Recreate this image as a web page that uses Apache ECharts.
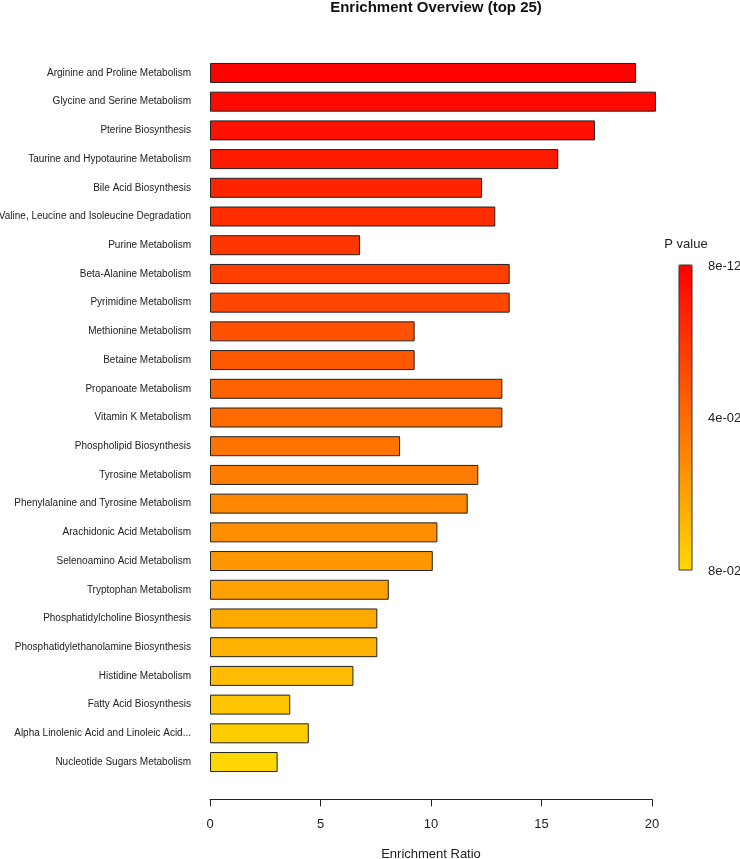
<!DOCTYPE html>
<html>
<head>
<meta charset="utf-8">
<script src="https://cdn.jsdelivr.net/npm/echarts@6/dist/echarts.min.js"></script>
<style>
  html, body { margin: 0; padding: 0; background: #fff; }
  #chart { width: 740px; height: 859px; }
</style>
</head>
<body>
<div id="chart"></div>
<script>
// pathway names, top to bottom
const pathways = [
  'Arginine and Proline Metabolism',
  'Glycine and Serine Metabolism',
  'Pterine Biosynthesis',
  'Taurine and Hypotaurine Metabolism',
  'Bile Acid Biosynthesis',
  'Valine, Leucine and Isoleucine Degradation',
  'Purine Metabolism',
  'Beta-Alanine Metabolism',
  'Pyrimidine Metabolism',
  'Methionine Metabolism',
  'Betaine Metabolism',
  'Propanoate Metabolism',
  'Vitamin K Metabolism',
  'Phospholipid Biosynthesis',
  'Tyrosine Metabolism',
  'Phenylalanine and Tyrosine Metabolism',
  'Arachidonic Acid Metabolism',
  'Selenoamino Acid Metabolism',
  'Tryptophan Metabolism',
  'Phosphatidylcholine Biosynthesis',
  'Phosphatidylethanolamine Biosynthesis',
  'Histidine Metabolism',
  'Fatty Acid Biosynthesis',
  'Alpha Linolenic Acid and Linoleic Acid...',
  'Nucleotide Sugars Metabolism'
]

const enrichmentRatio = [
  19.28, 20.18, 17.42, 15.76, 12.31, 12.91, 6.79, 13.56, 13.56, 9.26,
  9.26, 13.23, 13.23, 8.60, 12.14, 11.66, 10.29, 10.08, 8.09, 7.57,
  7.57, 6.49, 3.63, 4.47, 3.06
]

const pValues = [
  8e-12, 0.0030, 0.0065, 0.0098, 0.0130, 0.0165, 0.0200, 0.0232, 0.0265, 0.0300,
  0.0333, 0.0365, 0.0400, 0.0432, 0.0465, 0.0500, 0.0533, 0.0565, 0.0600, 0.0632,
  0.0665, 0.0700, 0.0732, 0.0765, 0.0800
]

const xTicks = [0, 5, 10, 15, 20]
const legendLabels = ['8e-12', '4e-02', '8e-02']

const font = "'Liberation Sans', Arial, sans-serif"
const chart = echarts.init(document.getElementById('chart'))

const barData = pathways.map((name, i) => [enrichmentRatio[i], name, pValues[i]])

const option = {
  animation: false,
  textStyle: { fontFamily: font },
  title: {
    text: 'Enrichment Overview (top 25)',
    left: 431,
    top: -5,
    textAlign: 'center',
    textStyle: { fontSize: 15, fontWeight: 'bold', color: '#111', fontFamily: font }
  },
  grid: {
    left: 210,
    right: 88,
    top: 58.6,
    bottom: 82.6,
    containLabel: false,
    outerBoundsMode: 'none'
  },
  xAxis: {
    type: 'value',
    min: xTicks[0],
    max: xTicks[xTicks.length - 1],
    interval: 5,
    offset: 23,
    name: 'Enrichment Ratio',
    nameLocation: 'middle',
    nameGap: 49,
    nameTextStyle: { fontSize: 13, color: '#222' },
    axisLine: { show: true, lineStyle: { color: '#222', width: 1 } },
    axisTick: { show: true, length: 7, lineStyle: { color: '#222' } },
    axisLabel: { fontSize: 13, color: '#222', margin: 19 },
    splitLine: { show: false }
  },
  yAxis: {
    type: 'category',
    inverse: true,
    data: pathways,
    axisLine: { show: false },
    axisTick: { show: false },
    axisLabel: { fontSize: 10, color: '#222', margin: 19 }
  },
  visualMap: {
    type: 'continuous',
    seriesIndex: 0,
    dimension: 2,
    min: 8e-12,
    max: 0.08,
    inverse: true,
    calculable: false,
    left: 679,
    top: 265,
    padding: 0,
    itemWidth: 13,
    itemHeight: 305,
    showLabel: false,
    inRange: { color: ['#FF0000', '#FFD700'] }
  },
  graphic: [
    {
      type: 'rect',
      shape: { x: 679, y: 265, width: 13, height: 305 },
      style: { fill: 'none', stroke: '#333', lineWidth: 1 },
      z: 100
    },
    {
      type: 'text', x: 686, y: 244,
      style: { text: 'P value', font: '13px ' + font, fill: '#222', textAlign: 'center', textVerticalAlign: 'middle' }
    },
    ...legendLabels.map((t, i) => ({
      type: 'text', x: 708, y: 266 + i * 152.5,
      style: { text: t, font: '13px ' + font, fill: '#222', textAlign: 'left', textVerticalAlign: 'middle' }
    }))
  ],
  series: [
    {
      type: 'bar',
      data: barData,
      encode: { x: 0, y: 1 },
      barWidth: 20,
      clip: false,
      itemStyle: { borderColor: '#222', borderWidth: 1 }
    }
  ]
}

chart.setOption(option)
</script>
</body>
</html>
